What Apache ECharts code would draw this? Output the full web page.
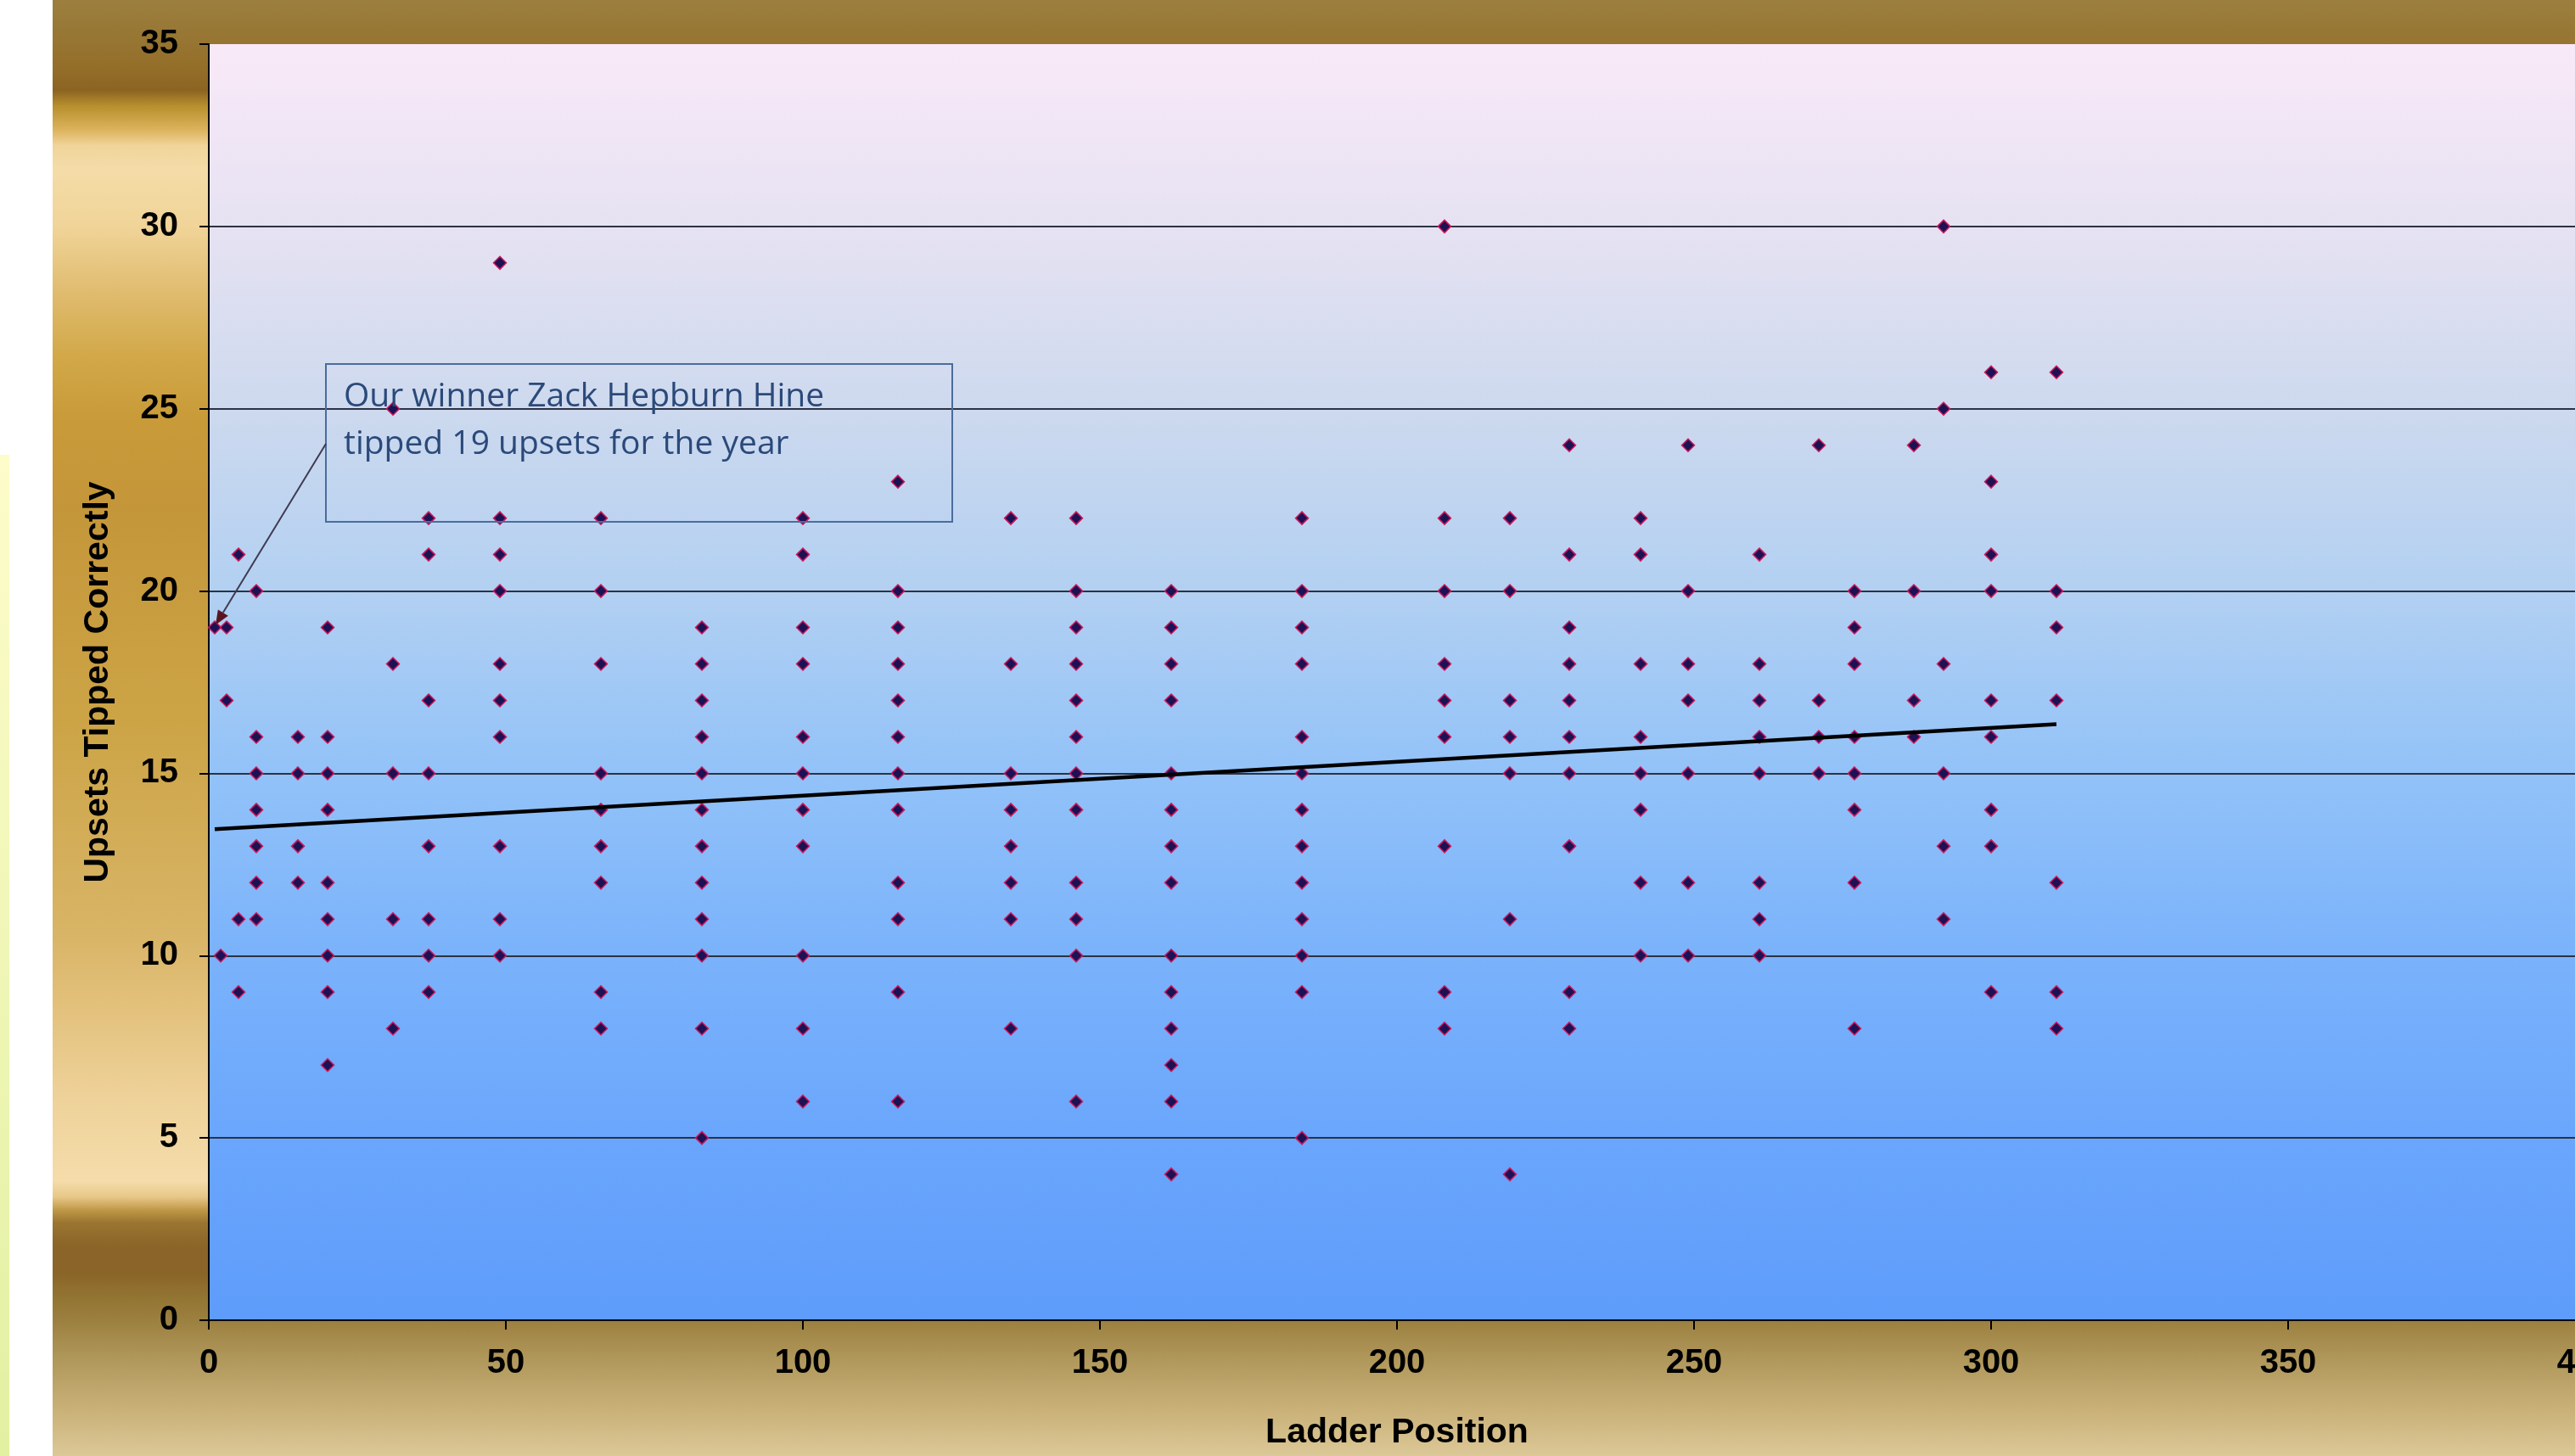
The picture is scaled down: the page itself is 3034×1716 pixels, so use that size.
<!DOCTYPE html>
<html>
<head>
<meta charset="utf-8">
<script src="https://cdn.jsdelivr.net/npm/echarts@6/dist/echarts.min.js"></script>
<style>
html,body{margin:0;padding:0;background:#ffffff;overflow:hidden}
#c{width:3034px;height:1716px}
</style>
</head>
<body>
<div id="c"></div>
<script>
// ---- data ----
const ladderPositions = [1, 2, 3, 5, 8, 15, 20, 31, 37, 49, 66, 83, 100, 116, 135, 146, 162, 184, 208, 219, 229, 241, 249, 261, 271, 277, 287, 292, 300, 311];
const upsetsByPosition = [
  [19],
  [10],
  [19, 17],
  [21, 11, 9],
  [20, 16, 15, 14, 13, 12, 11],
  [16, 15, 13, 12],
  [19, 16, 15, 14, 12, 11, 10, 9, 7],
  [25, 18, 15, 11, 8],
  [22, 21, 17, 15, 13, 11, 10, 9],
  [29, 22, 21, 20, 18, 17, 16, 13, 11, 10],
  [22, 20, 18, 15, 14, 13, 12, 9, 8],
  [19, 18, 17, 16, 15, 14, 13, 12, 11, 10, 8, 5],
  [22, 21, 19, 18, 16, 15, 14, 13, 10, 8, 6],
  [23, 20, 19, 18, 17, 16, 15, 14, 12, 11, 9, 6],
  [22, 18, 15, 14, 13, 12, 11, 8],
  [22, 20, 19, 18, 17, 16, 15, 14, 12, 11, 10, 6],
  [20, 19, 18, 17, 15, 14, 13, 12, 10, 9, 8, 7, 6, 4],
  [22, 20, 19, 18, 16, 15, 14, 13, 12, 11, 10, 9, 5],
  [30, 22, 20, 18, 17, 16, 13, 9, 8],
  [22, 20, 17, 16, 15, 11, 4],
  [24, 21, 19, 18, 17, 16, 15, 13, 9, 8],
  [22, 21, 18, 16, 15, 14, 12, 10],
  [24, 20, 18, 17, 15, 12, 10],
  [21, 18, 17, 16, 15, 12, 11, 10],
  [24, 17, 16, 15],
  [20, 19, 18, 16, 15, 14, 12, 8],
  [24, 20, 17, 16],
  [30, 25, 18, 15, 13, 11],
  [26, 23, 21, 20, 17, 16, 14, 13, 9],
  [26, 20, 19, 17, 12, 9, 8]
];
const xTickLabels = [0, 50, 100, 150, 200, 250, 300, 350, 400];
const yTickLabels = [0, 5, 10, 15, 20, 25, 30, 35];
const trendX = [1, 311];
const trendY = [13.47, 16.35];
const winnerPoint = [1, 19];
const noteLines = ['Our winner Zack Hepburn Hine', 'tipped 19 upsets for the year'];
const xTitle = 'Ladder Position';
const yTitle = 'Upsets Tipped Correctly';

// ---- build series data ----
const points = [];
ladderPositions.forEach((p, i) => upsetsByPosition[i].forEach(v => points.push([p, v])));
const trendData = trendX.map((x, i) => [x, trendY[i]]);

const LBL = '"Liberation Sans", Arial, sans-serif';
const chart = echarts.init(document.getElementById('c'), null, {renderer: 'canvas'});

function lg(stops) {
  return {type: 'linear', x: 0, y: 0, x2: 0, y2: 1,
    colorStops: stops.map(s => ({offset: s[0], color: s[1]}))};
}

const goldFill = lg([
  [0.000, '#9c7f3f'], [0.045, '#946f2a'], [0.062, '#8c6422'], [0.073, '#b8902e'],
  [0.089, '#dcb35c'], [0.100, '#f0d49a'], [0.116, '#f4dca8'], [0.156, '#f0d498'],
  [0.200, '#e0bc70'], [0.245, '#d2a848'], [0.290, '#c89a38'], [0.350, '#c4963a'],
  [0.495, '#cca446'], [0.641, '#d8b466'], [0.687, '#e2c07a'], [0.755, '#eed29a'],
  [0.811, '#f5dcaa'], [0.822, '#e8c888'], [0.831, '#c09848'], [0.840, '#9a7430'],
  [0.857, '#8a6428'], [0.874, '#8a6428'], [0.893, '#947634'], [0.907, '#9c8040'],
  [0.939, '#b49c60'], [0.973, '#ccb47c'], [1.000, '#dcc898']
]);
const plotFill = lg([
  [0.000, '#f9e9f8'], [0.143, '#e6e2f2'], [0.286, '#cdd9ee'], [0.429, '#b2d0f2'],
  [0.571, '#92c2f8'], [0.714, '#7ab2fb'], [0.857, '#6aa6fc'], [1.000, '#5e9cfb']
]);

const option = {
  animation: false,
  backgroundColor: '#ffffff',
  grid: {
    left: 246, top: 52, width: 2800, height: 1504,
    containLabel: false, outerBoundsMode: 'none',
    show: true, backgroundColor: plotFill, borderWidth: 0
  },
  xAxis: {
    type: 'value',
    min: xTickLabels[0], max: xTickLabels[xTickLabels.length - 1],
    interval: xTickLabels[1] - xTickLabels[0],
    name: xTitle, nameLocation: 'middle', nameGap: 112,
    nameTextStyle: {fontFamily: LBL, fontWeight: 'bold', fontSize: 41, color: '#000'},
    axisLine: {show: true, onZero: false, lineStyle: {color: '#000', width: 2}},
    axisTick: {show: true, inside: false, length: 11, lineStyle: {color: '#000', width: 2}},
    axisLabel: {fontFamily: LBL, fontWeight: 'bold', fontSize: 40, color: '#000', margin: 31,
      hideOverlap: false, showMaxLabel: true},
    splitLine: {show: false}
  },
  yAxis: {
    type: 'value',
    min: yTickLabels[0], max: yTickLabels[yTickLabels.length - 1],
    interval: yTickLabels[1] - yTickLabels[0],
    name: yTitle, nameLocation: 'middle', nameGap: 110,
    nameTextStyle: {fontFamily: LBL, fontWeight: 'bold', fontSize: 41, color: '#000'},
    axisLine: {show: true, onZero: false, lineStyle: {color: '#000', width: 2}},
    axisTick: {show: true, inside: false, length: 11, lineStyle: {color: '#000', width: 2}},
    axisLabel: {fontFamily: LBL, fontWeight: 'bold', fontSize: 40, color: '#000', margin: 36},
    splitLine: {show: true, showMinLine: false, showMaxLine: false, lineStyle: {color: '#2c3242', width: 2}}
  },
  graphic: [
    {id: 'gold', type: 'rect', z: -20, silent: true,
      shape: {x: 62, y: 0, width: 2972, height: 1716}, style: {fill: goldFill}},
    {id: 'bar', type: 'rect', z: -20, silent: true,
      shape: {x: 0, y: 536, width: 11, height: 1180},
      style: {fill: lg([[0, '#fdfcca'], [1, '#e2f0a2']])}}
  ],
  series: [
    {
      type: 'scatter', data: points, symbol: 'diamond', symbolSize: 15, z: 3,
      itemStyle: {color: '#1c1154', borderColor: '#d0185a', borderWidth: 1.5, opacity: 1}
    },
    {
      type: 'line', data: trendData, showSymbol: false, symbol: 'none', z: 4,
      lineStyle: {color: '#000000', width: 4.5}
    }
  ]
};
chart.setOption(option);

// annotation box + arrow pointing at the winner's point
const tip = chart.convertToPixel({xAxisIndex: 0, yAxisIndex: 0}, winnerPoint);
const tx = tip[0] + 1, ty = tip[1] - 3;
const sx = 384, sy = 523;
const dx = sx - tx, dy = sy - ty, len = Math.sqrt(dx * dx + dy * dy);
const ux = dx / len, uy = dy / len;
const hl = 17, hw = 7;
const bx = tx + ux * hl, by = ty + uy * hl;
chart.setOption({
  graphic: [
    {id: 'gold'}, {id: 'bar'},
    {id: 'box', type: 'rect', z: 10, silent: true,
      shape: {x: 384, y: 429, width: 738, height: 186},
      style: {fill: 'transparent', stroke: '#4a6c9c', lineWidth: 2}},
    {id: 'note', type: 'text', z: 10, silent: true, x: 405, y: 440,
      style: {text: noteLines.join('\n'), font: '39px "Open Sans", "Noto Sans", sans-serif',
        fill: '#2b4a7a', lineHeight: 56, verticalAlign: 'top', align: 'left'}},
    {id: 'arrowLine', type: 'line', z: 10, silent: true,
      shape: {x1: sx, y1: sy, x2: bx, y2: by}, style: {stroke: '#3f3a52', lineWidth: 2}},
    {id: 'arrowHead', type: 'polygon', z: 10, silent: true,
      shape: {points: [[tx, ty], [bx - uy * hw, by + ux * hw], [bx + uy * hw, by - ux * hw]]},
      style: {fill: '#5a1420'}}
  ]
});
</script>
</body>
</html>
